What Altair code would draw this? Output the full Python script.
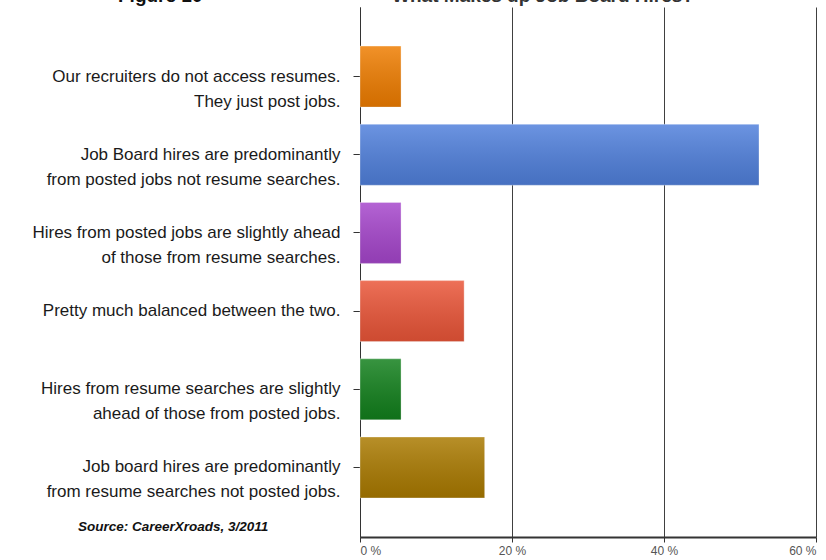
import altair as alt
import pandas as pd

categories = [
    "Our recruiters do not access resumes.|They just post jobs.",
    "Job Board hires are predominantly|from posted jobs not resume searches.",
    "Hires from posted jobs  are slightly ahead|of those from resume searches.",
    "Pretty much balanced between the two.",
    "Hires from resume searches are slightly |ahead of those from posted jobs.",
    "Job board hires are predominantly|from resume searches not posted jobs.",
]
values = [5.4, 52.5, 5.4, 13.7, 5.4, 16.4]
colors = ["#ef7d00", "#5080dc", "#a646cc", "#ea5538", "#12801c", "#aa7a00"]
x_ticks = [0, 20, 40, 60]

df = pd.DataFrame({"label": categories, "value": values})

FONT = "Liberation Sans"

y_axis = alt.Axis(
    title=None,
    labelExpr="split(datum.label, '|')",
    labelFont=FONT,
    labelFontSize=17,
    labelColor="#1a1a1a",
    labelLimit=0,
    labelLineHeight=25,
    labelPadding=13,
    tickSize=7,
    tickColor="#333333",
    domainColor="#333333",
    grid=False,
)
x_axis = alt.Axis(
    title=None,
    values=x_ticks,
    labelExpr="datum.value + ' %'",
    labelFont=FONT,
    labelFontSize=12,
    labelColor="#555555",
    labelPadding=3,
    tickSize=5,
    tickColor="#333333",
    domain=True,
    domainColor="#333333",
    domainWidth=2,
    grid=True,
    gridColor="#404040",
    gridOpacity=1,
    gridWidth=1,
)

y_enc = alt.Y(
    "label:N",
    sort=categories,
    scale=alt.Scale(paddingInner=0.22, paddingOuter=0.5),
    axis=y_axis,
)
x_enc = alt.X("value:Q", scale=alt.Scale(domain=[0, 60], nice=False), axis=x_axis)

base = alt.Chart(df)

bars = base.mark_bar(stroke="#ffffff", strokeOpacity=0.35, strokeWidth=1).encode(
    y=y_enc,
    x=x_enc,
    color=alt.Color("label:N", scale=alt.Scale(domain=categories, range=colors), legend=None),
)

shade = alt.LinearGradient(
    gradient="linear",
    stops=[
        alt.GradientStop(color="rgba(255,255,255,0.16)", offset=0),
        alt.GradientStop(color="rgba(0,0,0,0.12)", offset=1),
    ],
    x1=0, x2=0, y1=0, y2=1,
)
overlay = base.mark_bar(fill=shade).encode(y=y_enc, x=x_enc)

notes = pd.DataFrame({
    "text": ["Source: CareerXroads,  3/2011", "Figure 10", "What Makes up Job Board Hires?"],
    "kind": ["source", "fig", "title"],
})

source = alt.Chart(notes).transform_filter("datum.kind == 'source'").mark_text(
    font=FONT, fontSize=13.5, fontWeight="bold", fontStyle="italic", color="#111111",
    align="left", baseline="middle",
).encode(text="text:N", x=alt.value(-282), y=alt.value(520))

fig = alt.Chart(notes).transform_filter("datum.kind == 'fig'").mark_text(
    font=FONT, fontSize=19, fontWeight="bold", color="#111111",
    align="left", baseline="alphabetic",
).encode(text="text:N", x=alt.value(-242), y=alt.value(-5.5))

title = alt.Chart(notes).transform_filter("datum.kind == 'title'").mark_text(
    font=FONT, fontSize=19, fontWeight="bold", color="#333333",
    align="center", baseline="alphabetic",
).encode(text="text:N", x=alt.value(183), y=alt.value(-5.5))

chart = (
    alt.layer(bars, overlay, source, fig, title)
    .properties(
        width=456,
        height=530,
        autosize=alt.AutoSizeParams(type="none"),
        padding={"left": 360, "top": 7, "right": 10, "bottom": 23},
    )
    .configure(background="#ffffff")
    .configure_view(stroke=None, strokeWidth=0)
)

chart.save("out.html", embed_options={"renderer": "svg", "actions": False})
